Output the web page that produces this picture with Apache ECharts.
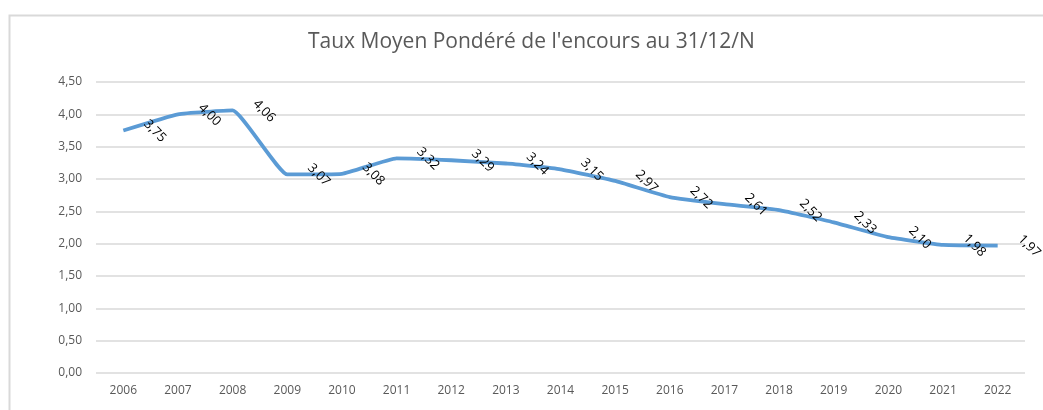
<!DOCTYPE html>
<html>
<head>
<meta charset="utf-8">
<script src="https://cdn.jsdelivr.net/npm/echarts@6/dist/echarts.min.js"></script>
<style>
html,body{margin:0;padding:0;background:#fff;}
#chart{width:1043px;height:410px;}
</style>
</head>
<body>
<div id="chart"></div>
<script>
const titleText = "Taux Moyen Pondéré de l'encours au 31/12/N";
const years = ["2006","2007","2008","2009","2010","2011","2012","2013","2014","2015","2016","2017","2018","2019","2020","2021","2022"];
const rates = [3.75, 4.00, 4.06, 3.07, 3.08, 3.32, 3.29, 3.24, 3.15, 2.97, 2.72, 2.61, 2.52, 2.33, 2.10, 1.98, 1.97];
const fmt = v => v.toFixed(2).replace('.', ',');

const chart = echarts.init(document.getElementById('chart'), null, {renderer:'canvas'});
chart.setOption({
  animation: false,
  backgroundColor: '#fff',
  graphic: [{
    type: 'rect', left: 7, top: 13, z: -1,
    shape: {width: 1100, height: 500},
    style: {fill: 'none', stroke: '#d9d9d9', lineWidth: 2}
  }],
  title: {
    text: titleText, left: 308, top: 32,
    textStyle: {fontFamily: 'Open Sans', fontSize: 21, fontWeight: 'normal', color: '#595959'},
    padding: 0
  },
  grid: {left: 96, right: 18, top: 82, bottom: 37, containLabel: false},
  xAxis: {
    type: 'category', data: years, boundaryGap: true,
    axisLine: {show: false}, axisTick: {show: false},
    axisLabel: {color: '#595959', fontFamily: 'Open Sans', fontSize: 12, margin: 12}
  },
  yAxis: {
    type: 'value', min: 0, max: 4.5, interval: 0.5,
    axisLine: {show: false}, axisTick: {show: false},
    splitLine: {lineStyle: {color: '#d9d9d9', width: 1.5}},
    axisLabel: {color: '#595959', fontFamily: 'Open Sans', fontSize: 12, margin: 14, formatter: v => fmt(v)}
  },
  series: [{
    type: 'line', data: rates, smooth: 0.12,
    symbol: 'circle', symbolSize: 1, showSymbol: true,
    itemStyle: {color: 'rgba(91,155,213,0)'},
    lineStyle: {color: '#5b9bd5', width: 3.8},
    labelLayout: {hideOverlap: false},
    label: {
      show: true, position: [32, 1], rotate: -45,
      align: 'center', verticalAlign: 'middle',
      color: '#000', fontFamily: 'Open Sans', fontSize: 13,
      formatter: p => fmt(p.value)
    }
  }]
});
</script>
</body>
</html>
